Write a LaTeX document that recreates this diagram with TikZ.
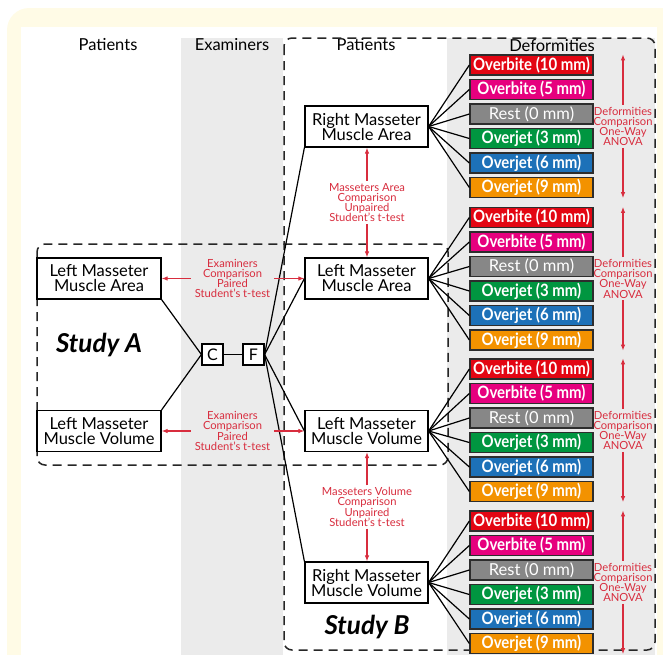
\documentclass[tikz,border=0pt]{standalone}
\usepackage{fontspec}
\setmainfont{Lato}
\newfontfamily\condfont[FakeStretch=0.88]{Lato}
\usetikzlibrary{arrows.meta}
\newcommand\tightls{\lineskiplimit=-20pt\relax}
\definecolor{cream}{RGB}{255,251,230}
\definecolor{colgray}{RGB}{235,235,235}
\definecolor{ob10}{RGB}{227,6,19}
\definecolor{ob5}{RGB}{230,0,126}
\definecolor{restc}{RGB}{135,135,135}
\definecolor{oj3}{RGB}{0,150,64}
\definecolor{oj6}{RGB}{29,113,184}
\definecolor{oj9}{RGB}{243,146,0}
\definecolor{redc}{RGB}{216,45,62}
\definecolor{bordc}{RGB}{45,45,45}
\tikzset{
 midbox/.style={draw=black, line width=1.2pt, fill=white, minimum width=123pt, minimum height=41pt, inner sep=0pt, align=center, font=\fontsize{16.5}{15}\selectfont\tightls},
 smallbox/.style={draw=black, line width=1.2pt, fill=white, minimum size=21pt, inner sep=0pt, font=\fontsize{16}{16}\selectfont},
 defbox/.style={draw=bordc, line width=1.3pt, minimum width=123pt, minimum height=20pt, inner sep=0pt, text=white, font=\condfont\bfseries\fontsize{17}{17}\selectfont},
 redlbl/.style={text=redc, align=center, inner xsep=4pt, inner ysep=2pt, font=\fontsize{11.2}{10.2}\selectfont\tightls},
 redarr/.style={draw=redc, line width=1.1pt, -{Latex[length=6pt,width=4.5pt]}},
 conn/.style={draw=black, line width=1.2pt},
 dashbox/.style={draw=black!85, line width=1.5pt, dash pattern=on 9pt off 6pt, rounded corners=8pt},
 header/.style={font=\fontsize{16.5}{16.5}\selectfont},
 study/.style={font=\bfseries\itshape\fontsize{26}{26}\selectfont}
}
\newcommand\restfont{\normalfont\mdseries\fontsize{16.5}{16}\selectfont}
\begin{document}
\begin{tikzpicture}[x=1pt,y=-1pt]
\useasboundingbox (0,0) rectangle (663,654);
\begin{scope}
\clip (0,0) rectangle (663,654);
\fill[cream, rounded corners=22pt] (7,8) rectangle (700,700);
\fill[white] (21,27) rectangle (657,700);
\fill[colgray] (181,38) rectangle (283,700);
\fill[colgray] (447,38) rectangle (655,700);
\end{scope}

\node[header] (h1) at (108,45) {Patients};
\node[header] (h2) at (232,45) {Examiners};
\node[header] (h3) at (366,45) {Patients};
\node[header] (h4) at (552,46) {Deformities};

\draw[dashbox] (284,38) rectangle (655,650);
\draw[dashbox] (37,244) rectangle (448,465);

\node[midbox, minimum width=124pt] (lmaL) at (99,278.5) {Left Masseter\\Muscle Area};
\node[midbox, minimum width=124pt] (lmvL) at (99,431) {Left Masseter\\Muscle Volume};
\node[midbox] (rma) at (366.5,126.5) {Right Masseter\\Muscle Area};
\node[midbox] (lmaR) at (366.5,278.5) {Left Masseter\\Muscle Area};
\node[midbox] (lmvR) at (366.5,431) {Left Masseter\\Muscle Volume};
\node[midbox] (rmv) at (366.5,582.5) {Right Masseter\\Muscle Volume};
\node[smallbox] (C) at (212.5,354.5) {C};
\node[smallbox] (F) at (253.5,354.5) {F};

\draw[conn] (C) -- (F);
\draw[conn] (C.west) -- (lmaL.south east);
\draw[conn] (C.west) -- (lmvL.north east);
\draw[conn] (F.east) -- (rma.south west);
\draw[conn] (F.east) -- (lmaR.west);
\draw[conn] (F.east) -- (lmvR.west);
\draw[conn] (F.east) -- (rmv.north west);

\node[redlbl] (exA) at (232.5,278.5) {Examiners\\Comparison\\Paired\\Student’s t-test};
\draw[redarr] (exA.west) -- (lmaL.east);
\draw[redarr] (exA.east) -- (lmaR.west);
\node[redlbl] (exV) at (232.5,431) {Examiners\\Comparison\\Paired\\Student’s t-test};
\draw[redarr] (exV.west) -- (lmvL.east);
\draw[redarr] (exV.east) -- (lmvR.west);

\node[redlbl] (maA) at (367,202.5) {Masseters Area\\Comparison\\Unpaired\\Student’s t-test};
\draw[redarr] (maA.north) -- (maA.north |- rma.south);
\draw[redarr] (maA.south) -- (maA.south |- lmaR.north);
\node[redlbl] (maV) at (367,507) {Masseters Volume\\Comparison\\Unpaired\\Student’s t-test};
\draw[redarr] (maV.north) -- (maV.north |- lmvR.south);
\draw[redarr] (maV.south) -- (maV.south |- rmv.north);

\foreach \g/\top/\src in {1/65/rma, 2/217.5/lmaR, 3/369/lmvR, 4/521/rmv} {
  \foreach \i/\txt/\col in {0/Overbite (10 mm)/ob10, 1/Overbite (5 mm)/ob5, 2/\restfont Rest (0 mm)/restc, 3/Overjet (3 mm)/oj3, 4/Overjet (6 mm)/oj6, 5/Overjet (9 mm)/oj9} {
    \node[defbox, fill=\col] (d\g-\i) at (531.5, \top+\i*24.5) {\txt};
    \draw[conn] (\src.east) -- (d\g-\i.west);
  }
  \node[redlbl] (dl\g) at (623, \top+61.25) {Deformities\\Comparison\\One-Way\\ANOVA};
  \draw[redarr] (dl\g.north) -- (dl\g.north |- d\g-0.north);
  \draw[redarr] (dl\g.south) -- (dl\g.south |- d\g-5.south);
}

\node[study] (sA) at (99,345) {Study A};
\node[study] (sB) at (367,627) {Study B};
\end{tikzpicture}
\end{document}
